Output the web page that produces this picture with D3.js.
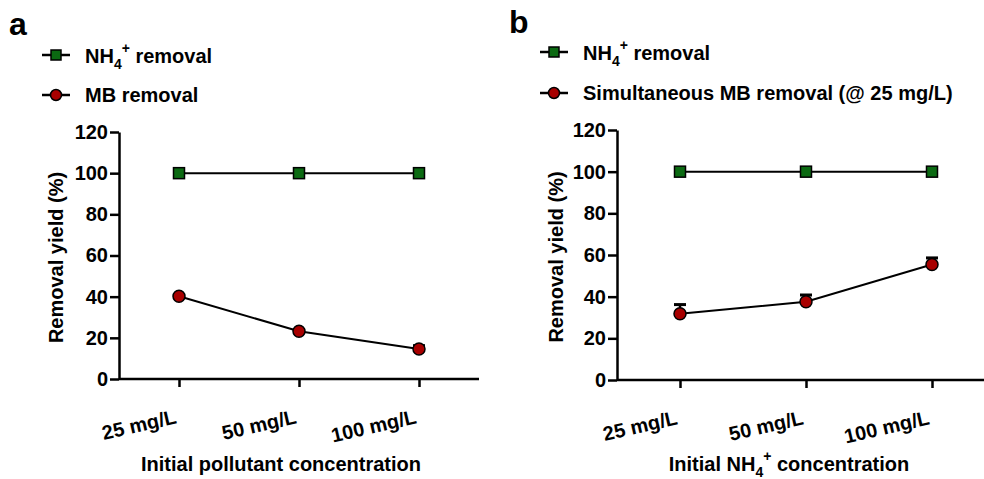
<!DOCTYPE html>
<html>
<head>
<meta charset="utf-8">
<script src="https://cdn.jsdelivr.net/npm/d3@7"></script>
<style>
  body { margin: 0; background: #fff; }
  text { font-family: "Liberation Sans", Arial, sans-serif; font-weight: bold; fill: #000; }
</style>
</head>
<body>
<div id="chart"></div>
<script>
// data
const categories = ["25 mg/L", "50 mg/L", "100 mg/L"];
const yTicks = [0, 20, 40, 60, 80, 100, 120];
const nh4A = [100, 100, 100];
const mbA = [40.2, 23.2, 14.6];
const mbErrA = [0.6, 0.8, 1.6];
const nh4B = [100, 100, 100];
const mbB = [31.8, 37.6, 55.4];
const mbErrB = [4.4, 3.2, 3.2];

const width = 984, height = 479;
const green = "#0b6a12", red = "#a80000";
const fs = "20px", fsSmall = "14px";

const svg = d3.select("#chart").append("svg")
  .attr("width", width).attr("height", height);

// NH4+ with sub and sup
function nh4(sel, before, after) {
  sel.append("tspan").text(before);
  sel.append("tspan").text("4").attr("font-size", fsSmall).attr("dy", 6);
  sel.append("tspan").text("+").attr("font-size", fsSmall).attr("dy", -16).attr("dx", 0);
  sel.append("tspan").text(after).attr("dy", 10);
}

function panel(opt) {
  const x = d3.scalePoint().domain(categories).range([opt.x0, opt.x1]).padding(0.5);
  const y = d3.scaleLinear().domain([0, 120]).range([opt.y0, opt.y1]);
  const g = svg.append("g");

  g.append("text").attr("x", opt.letterX).attr("y", opt.letterY)
    .attr("font-size", "32px").text(opt.letter);

  // y axis
  const ya = g.append("g").attr("transform", `translate(${opt.x0},0)`)
    .call(d3.axisLeft(y).tickValues(yTicks).tickSize(9).tickSizeOuter(0).tickPadding(2));
  ya.select(".domain").attr("stroke-width", 2.5);
  ya.selectAll(".tick line").attr("stroke-width", 2.5);
  ya.selectAll(".tick text").attr("font-size", fs).attr("font-family", null);

  // x axis
  const xa = g.append("g").attr("transform", `translate(0,${opt.y0})`)
    .call(d3.axisBottom(x).tickSize(8).tickSizeOuter(0));
  xa.select(".domain").attr("d", `M${opt.x0},0H${opt.x1}`).attr("stroke-width", 2.5);
  xa.selectAll(".tick line").attr("stroke-width", 2.5);
  xa.selectAll(".tick text")
    .attr("font-size", fs).attr("font-family", null)
    .attr("text-anchor", "end").attr("dy", 0).attr("y", 0)
    .attr("transform", "translate(-2,44) rotate(-13)");

  g.append("text")
    .attr("transform", `translate(${opt.yTitleX},${(opt.y0 + opt.y1) / 2 + 2}) rotate(-90)`)
    .attr("text-anchor", "middle").attr("font-size", fs)
    .text("Removal yield (%)");

  const xt = g.append("text").attr("x", opt.titleX).attr("y", 471)
    .attr("text-anchor", "middle").attr("font-size", fs);
  opt.xTitle(xt);

  const line = d3.line().x((d, i) => x(categories[i])).y(d => y(d));

  g.append("path").datum(opt.nh4).attr("d", line)
    .attr("fill", "none").attr("stroke", "#000").attr("stroke-width", 2);
  g.selectAll(".sq").data(opt.nh4).join("rect")
    .attr("x", (d, i) => x(categories[i]) - 5.5).attr("y", d => y(d) - 5.5)
    .attr("width", 11).attr("height", 11)
    .attr("fill", green).attr("stroke", "#000").attr("stroke-width", 1.5);

  g.append("path").datum(opt.mb).attr("d", line)
    .attr("fill", "none").attr("stroke", "#000").attr("stroke-width", 2);
  const eb = g.append("g");
  opt.mb.forEach((d, i) => {
    const cx = x(categories[i]);
    eb.append("line").attr("x1", cx).attr("x2", cx)
      .attr("y1", y(d)).attr("y2", y(d + opt.err[i]))
      .attr("stroke", "#000").attr("stroke-width", 2.5);
    eb.append("line").attr("x1", cx - 6).attr("x2", cx + 6)
      .attr("y1", y(d + opt.err[i])).attr("y2", y(d + opt.err[i]))
      .attr("stroke", "#000").attr("stroke-width", 3);
  });
  g.selectAll(".ci").data(opt.mb).join("circle")
    .attr("cx", (d, i) => x(categories[i])).attr("cy", d => y(d)).attr("r", 6)
    .attr("fill", red).attr("stroke", "#000").attr("stroke-width", 1.5);

  // legend
  const lg = g.append("g");
  [[opt.legY[0], "sq"], [opt.legY[1], "ci"]].forEach(([ly, kind]) => {
    lg.append("line").attr("x1", opt.legX).attr("x2", opt.legX + 28)
      .attr("y1", ly).attr("y2", ly).attr("stroke", "#000").attr("stroke-width", 2.5);
    if (kind === "sq") {
      lg.append("rect").attr("x", opt.legX + 9).attr("y", ly - 5).attr("width", 10).attr("height", 10)
        .attr("fill", green).attr("stroke", "#000").attr("stroke-width", 1.5);
    } else {
      lg.append("circle").attr("cx", opt.legX + 14).attr("cy", ly).attr("r", 5.5)
        .attr("fill", red).attr("stroke", "#000").attr("stroke-width", 1.5);
    }
  });
  const t1 = lg.append("text").attr("x", opt.legX + 43).attr("y", opt.legY[0] + 8).attr("font-size", fs);
  nh4(t1, "NH", " removal");
  lg.append("text").attr("x", opt.legX + 43).attr("y", opt.legY[1] + 7).attr("font-size", fs)
    .text(opt.mbLabel);
}

panel({
  letter: "a", letterX: 9, letterY: 35, x0: 119, x1: 479, titleX: 281, y0: 379, y1: 132, yTitleX: 63,
  nh4: nh4A, mb: mbA, err: mbErrA, legX: 42, legY: [55, 95],
  mbLabel: "MB removal",
  xTitle: t => t.text("Initial pollutant concentration")
});

panel({
  letter: "b", letterX: 509, letterY: 33, x0: 617, x1: 995, titleX: 789, y0: 380, y1: 130, yTitleX: 563,
  nh4: nh4B, mb: mbB, err: mbErrB, legX: 540, legY: [52, 93],
  mbLabel: "Simultaneous MB removal (@ 25 mg/L)",
  xTitle: t => nh4(t, "Initial NH", " concentration")
});
</script>
</body>
</html>
